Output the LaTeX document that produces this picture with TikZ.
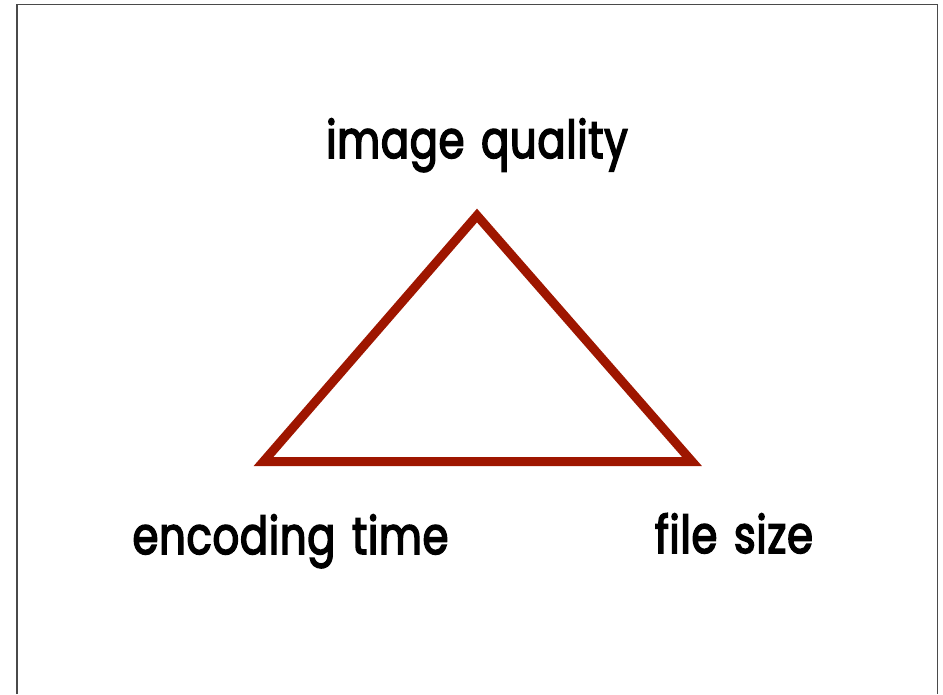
\documentclass[tikz,border=0pt]{standalone}
\usepackage{fontspec}
\setmainfont{Poppins}[FakeStretch=0.8,FakeBold=3,LetterSpace=1.5,WordSpace=1.4]
\usetikzlibrary{positioning}
\definecolor{brick}{HTML}{9E1600}
\definecolor{rim}{HTML}{4A4A4A}

\begin{document}
\begin{tikzpicture}[x=1pt,y=-1pt,
  vertex/.style={font=\fontsize{52}{60}\selectfont,anchor=base,inner sep=0pt}]
\useasboundingbox (0,0) rectangle (943,694);
\draw[rim,line width=1.6pt] (17,694) |- (937.5,4.5) -- (937.5,694);
% corners of the trade-off triangle
\coordinate (top) at (477,215.5);
\coordinate (bl) at (263.5,461.5);
\coordinate (br) at (692,461.5);
\draw[brick,line width=9pt,line join=miter] (top) -- (bl) -- (br) -- cycle;
\node[vertex] (quality) at (477,158) {image quality};
\node[vertex] (time) at (290.5,554) {encoding time};
\node[vertex] (size) at (734,553) {file size};
\end{tikzpicture}
\end{document}
